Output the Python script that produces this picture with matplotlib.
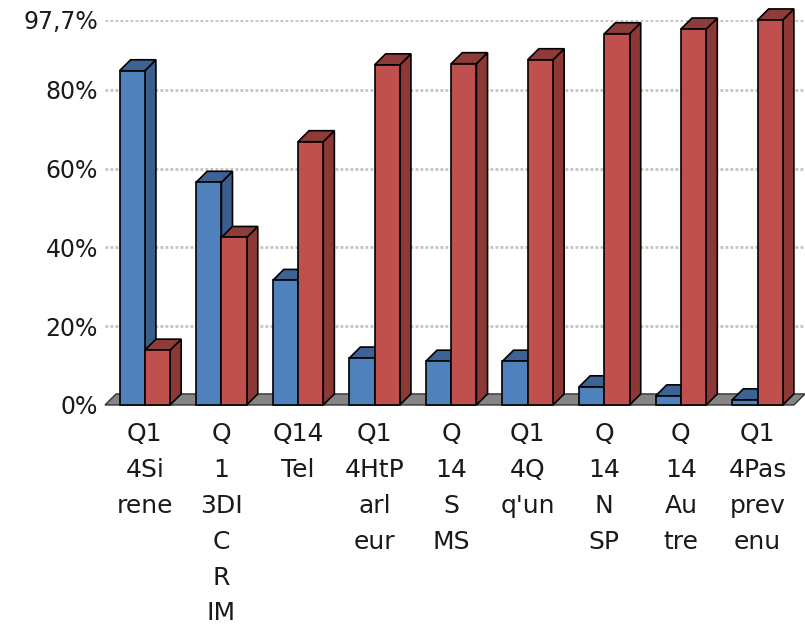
import matplotlib

matplotlib.use("Agg")
import matplotlib.pyplot as plt
from matplotlib.patches import Polygon, Rectangle

plt.rcParams["font.family"] = ["DejaVu Sans"]

categories = ["Q1\n4Si\nrene", "Q\n1\n3DI\nC\nR\nIM", "Q14\nTel", "Q1\n4HtP\narl\neur",
              "Q\n14\nS\nMS", "Q1\n4Q\nq'un", "Q\n14\nN\nSP", "Q\n14\nAu\ntre", "Q1\n4Pas\nprev\nenu"]
blue_vals = [84.8, 56.5, 31.6, 11.9, 11.1, 11.1, 4.6, 2.3, 1.3]
red_vals = [13.9, 42.5, 66.8, 86.3, 86.6, 87.6, 94.2, 95.4, 97.7]
yticks = [0, 20, 40, 60, 80, 97.7]
ytick_labels = ["0%", "20%", "40%", "60%", "80%", "97,7%"]

BLUE = ("#4f81bd", "#3a5f8d", "#3d6394")   # front, side, top
RED = ("#c0504d", "#8c3936", "#8e3c3a")
W, DX, DY = 0.33, 0.145, 2.8               # bar width, depth offsets (x units, % units)
XMIN, XMAX = -0.52, 8.62


def bar3d(ax, x0, h, cols):
    front = Rectangle((x0, 0), W, h, fc=cols[0], ec="black", lw=1.2, zorder=3)
    side = Polygon([(x0 + W, 0), (x0 + W + DX, DY), (x0 + W + DX, h + DY), (x0 + W, h)],
                   closed=True, fc=cols[1], ec="black", lw=1.2, zorder=3)
    top = Polygon([(x0, h), (x0 + DX, h + DY), (x0 + W + DX, h + DY), (x0 + W, h)],
                  closed=True, fc=cols[2], ec="black", lw=1.2, zorder=3)
    for p in (side, top, front):
        p.set_clip_on(False)
        ax.add_patch(p)


fig = plt.figure(figsize=(8.05, 6.24), dpi=100)
ax = fig.add_axes([0.1304, 0.351, 0.8696, 0.617])
ax.set_xlim(XMIN, XMAX)
ax.set_ylim(0, 97.7)

for y in yticks[1:]:
    ax.axhline(y, color="#c2c2c2", lw=2.0, ls=(0, (1.0, 0.8)), zorder=1)

floor = Polygon([(XMIN, 0), (XMAX - DX, 0), (XMAX, DY), (XMIN + DX, DY)], closed=True,
                fc="#858585", ec="#333333", lw=1.0, zorder=2, clip_on=False)
ax.add_patch(floor)

for i, (b, r) in enumerate(zip(blue_vals, red_vals)):
    bar3d(ax, i - W, b, BLUE)
    bar3d(ax, i, r, RED)

ax.set_yticks(yticks)
ax.set_yticklabels(ytick_labels, fontsize=17, color="#1a1a1a")
ax.set_xticks(range(len(categories)))
ax.set_xticklabels(categories, fontsize=18, color="#1a1a1a", linespacing=1.63)
ax.tick_params(length=0)
ax.tick_params(axis="x", pad=12)
ax.tick_params(axis="y", pad=5)
for s in ax.spines.values():
    s.set_visible(False)

fig.savefig("out.png", dpi=100)
